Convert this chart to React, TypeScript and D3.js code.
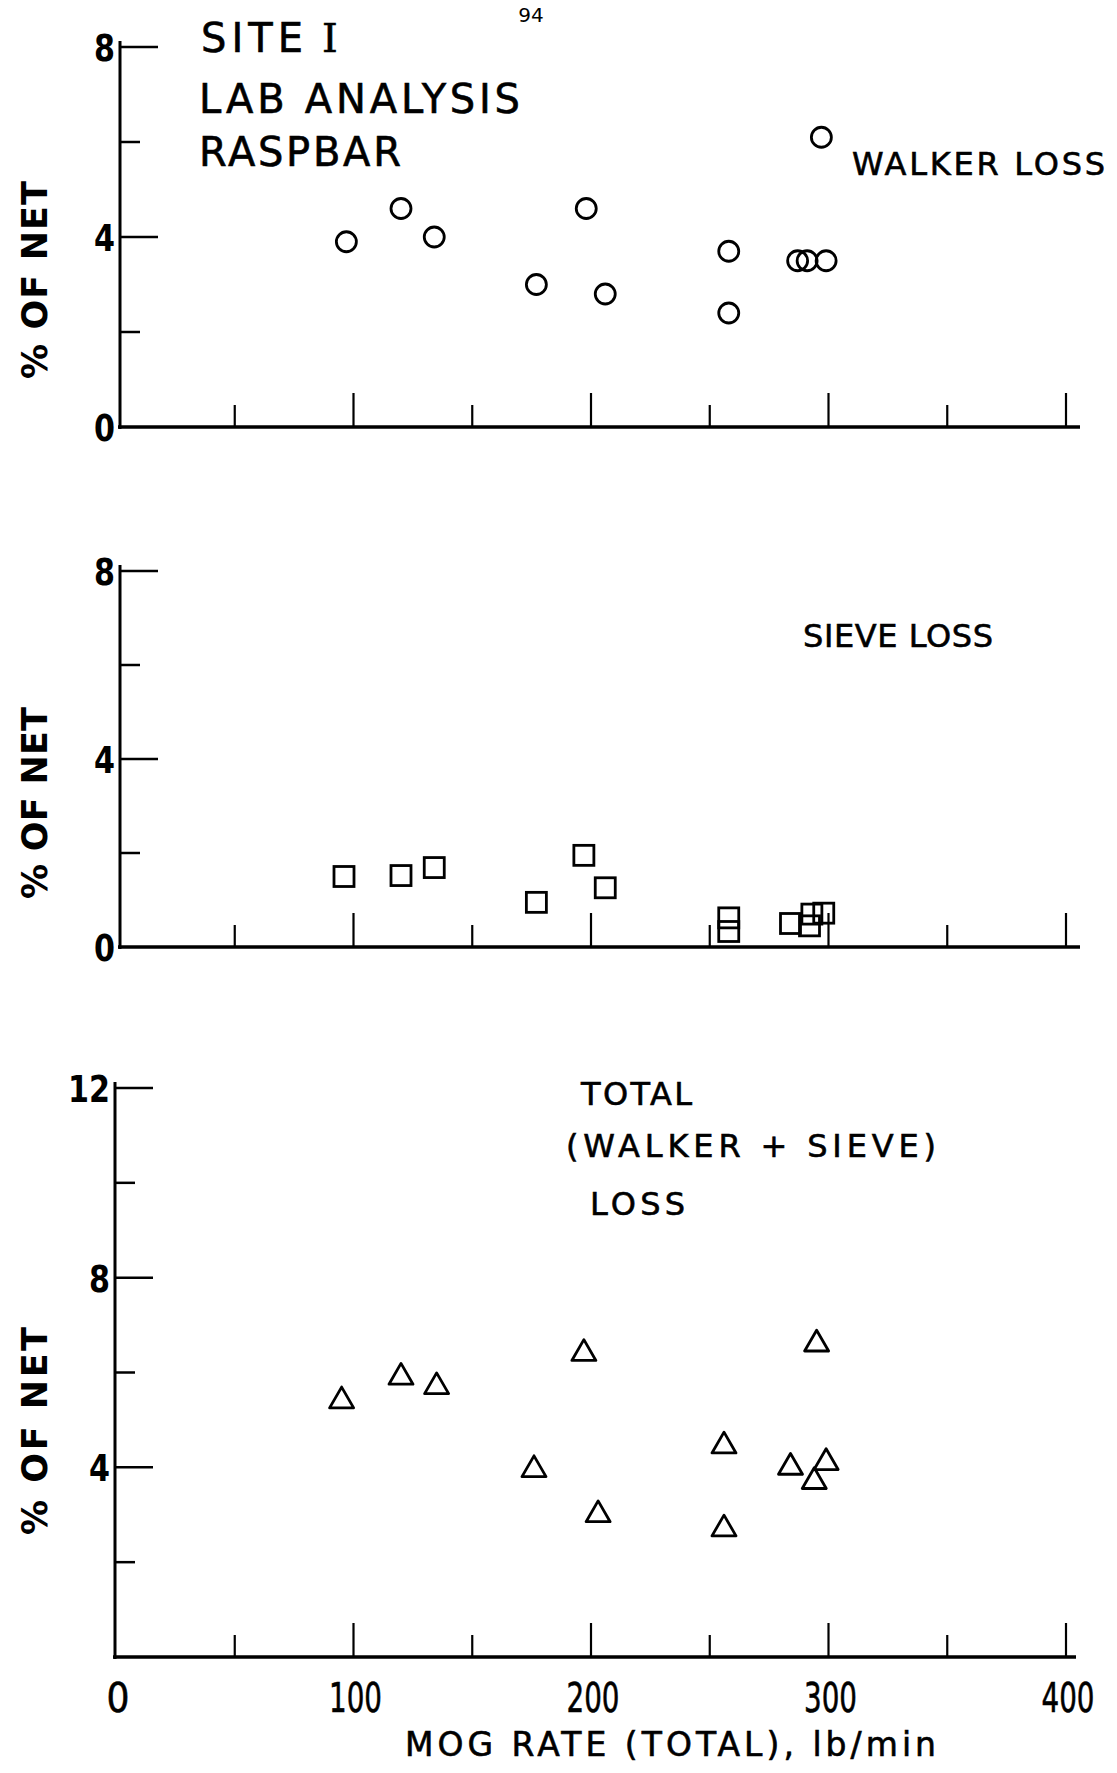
import React from 'react';
import * as d3 from 'd3';

// MOG rate (lb/min) and losses (% of net)
const walkerRate = [97, 120, 134, 177, 198, 206, 258, 258, 287, 291, 299, 297];
const walkerLoss = [3.9, 4.6, 4.0, 3.0, 4.6, 2.8, 3.7, 2.4, 3.5, 3.5, 3.5, 6.1];

const sieveRate = [96, 120, 134, 177, 197, 206, 258, 258, 284, 292, 293, 298];
const sieveLoss = [1.5, 1.52, 1.69, 0.95, 1.95, 1.26, 0.62, 0.33, 0.5, 0.45, 0.7, 0.72];

const totalRate = [95, 120, 135, 176, 197, 203, 256, 256, 284, 295, 294, 299];
const totalLoss = [5.4, 5.9, 5.7, 3.95, 6.4, 3.0, 4.45, 2.7, 4.0, 6.6, 3.7, 4.1];

const xTicks = [0, 50, 100, 150, 200, 250, 300, 350, 400];
const xTickLabels = ['0', '100', '200', '300', '400'];
const yTicksSmall = [0, 2, 4, 6, 8];
const yTicksTotal = [2, 4, 6, 8, 10, 12];

const FONT = '"DejaVu Sans", sans-serif';
const INK = { fill: '#000', stroke: '#000', strokeWidth: 0.6 };

const x = d3.scaleLinear().domain([0, 400]).range([116, 1066]);

// spread a label to the width it has in the figure
function Lettering({ x, y, w, size, children }:
  { x: number; y: number; w: number; size: number; children: React.ReactNode }) {
  return (
    <text x={x} y={y} textLength={w} lengthAdjust="spacing"
      fontFamily={FONT} fontSize={size} {...INK}>{children}</text>
  );
}

type PanelProps = {
  y: d3.ScaleLinear<number, number>;
  ticks: number[];
  labelled: number[];
  zeroLabel: boolean;
  axisX: number;
  xEnd: number;
  children?: React.ReactNode;
};

function Panel({ y, ticks, labelled, zeroLabel, axisX, xEnd, children }: PanelProps) {
  const y0 = y(0);
  const yTop = y(d3.max(ticks) as number);
  return (
    <g>
      {/* y axis */}
      <line x1={axisX} x2={axisX} y1={yTop - 6} y2={y0 + 2} stroke="#000" strokeWidth={3} />
      {ticks.filter(t => t !== 0).map(t => (
        <line key={t} x1={axisX} x2={axisX + (labelled.includes(t) ? 38 : 20)} y1={y(t)} y2={y(t)}
          stroke="#000" strokeWidth={2.5} />
      ))}
      {labelled.map(t => (t !== 0 || zeroLabel) && (
        <text key={t} x={axisX - 5} y={y(t)} dy="0.37em" textAnchor="end" fontFamily={FONT}
          fontSize={38} fontWeight="bold" textLength={String(t).length * 21} lengthAdjust="spacingAndGlyphs"
          fill="#000">{t}</text>
      ))}
      {/* x axis */}
      <line x1={axisX - 2} x2={xEnd} y1={y0} y2={y0} stroke="#000" strokeWidth={3.5} />
      {xTicks.filter(t => t !== 0).map(t => (
        <line key={t} x1={x(t)} x2={x(t)} y1={y0} y2={y0 - (t % 100 === 0 ? 34 : 22)}
          stroke="#000" strokeWidth={2.2} />
      ))}
      {children}
    </g>
  );
}

const yWalker = d3.scaleLinear().domain([0, 8]).range([427, 47]);
const ySieve = d3.scaleLinear().domain([0, 8]).range([947, 571]);
const yTotal = d3.scaleLinear().domain([0, 12]).range([1657, 1088]);

const tri = d3.symbol().type(d3.symbolTriangle).size(250);

export default function App() {
  const yLabel = (cx: number, cy: number, len: number) => (
    <text transform={`translate(${cx},${cy}) rotate(-90)`} textAnchor="middle" dy="0.36em"
      fontFamily={FONT} fontSize={35} fontWeight="bold" textLength={len} lengthAdjust="spacing"
      fill="#000">% OF NET</text>
  );
  return (
    <svg width={1117} height={1773} style={{ position: 'absolute', left: 0, top: 0, background: '#fff' }}>
      <rect width={1117} height={1773} fill="#fff" />
      <text x={531} y={22} fontFamily={FONT} fontSize={20} textAnchor="middle">94</text>

      {/* walker loss */}
      <Panel y={yWalker} ticks={yTicksSmall} labelled={[0, 4, 8]} zeroLabel={true} axisX={120} xEnd={1080}>
        {walkerRate.map((r, i) => (
          <circle key={i} cx={x(r)} cy={yWalker(walkerLoss[i])} r={10} fill="none" stroke="#000" strokeWidth={2.8} />
        ))}
      </Panel>
      {yLabel(34, 280, 198)}
      <Lettering x={201} y={52} w={102} size={40}>SITE</Lettering>
      <text x={330} y={52} textAnchor="middle" fontFamily="'DejaVu Serif', serif" fontSize={40} {...INK}>I</text>
      <Lettering x={199} y={113} w={321} size={40}>LAB ANALYSIS</Lettering>
      <Lettering x={199} y={166} w={202} size={40}>RASPBAR</Lettering>
      <Lettering x={852} y={175} w={253} size={32}>WALKER LOSS</Lettering>

      {/* sieve loss */}
      <Panel y={ySieve} ticks={yTicksSmall} labelled={[0, 4, 8]} zeroLabel={true} axisX={120} xEnd={1080}>
        {sieveRate.map((r, i) => (
          <rect key={i} x={x(r) - 10} y={ySieve(sieveLoss[i]) - 10} width={20} height={20}
            fill="none" stroke="#000" strokeWidth={2.8} />
        ))}
      </Panel>
      {yLabel(34, 803, 192)}
      <Lettering x={803} y={647} w={190} size={32}>SIEVE LOSS</Lettering>

      {/* total loss */}
      <Panel y={yTotal} ticks={[0, ...yTicksTotal]} labelled={[4, 8, 12]} zeroLabel={false} axisX={115} xEnd={1076}>
        {totalRate.map((r, i) => (
          <path key={i} d={tri() as string} transform={`translate(${x(r)},${yTotal(totalLoss[i])})`}
            fill="none" stroke="#000" strokeWidth={2.8} strokeLinejoin="round" />
        ))}
      </Panel>
      {yLabel(34, 1431, 208)}
      <Lettering x={581} y={1105} w={111} size={32}>TOTAL</Lettering>
      <Lettering x={566} y={1157} w={370} size={32}>(WALKER + SIEVE)</Lettering>
      <Lettering x={590} y={1215} w={95} size={32}>LOSS</Lettering>

      {xTickLabels.map(l => (
        <text key={l} x={x(+l) + 2} y={1712} textAnchor="middle" fontFamily={FONT} fontSize={40}
          textLength={l.length === 1 ? 23 : 53} lengthAdjust="spacingAndGlyphs" {...INK}>{l}</text>
      ))}
      <Lettering x={405} y={1756} w={531} size={33}>MOG RATE (TOTAL), lb/min</Lettering>
    </svg>
  );
}
